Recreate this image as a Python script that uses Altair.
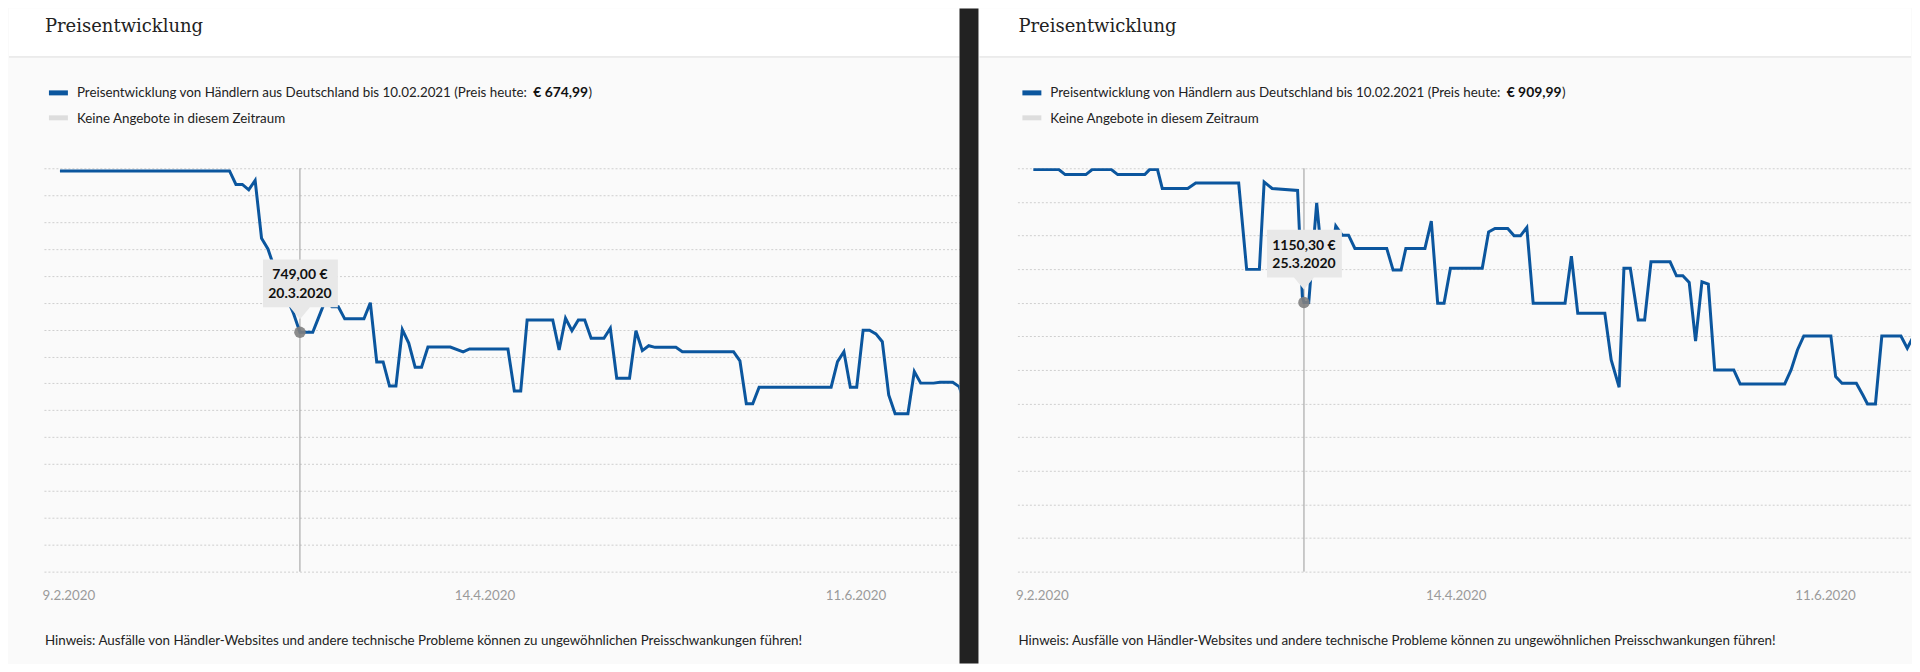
import altair as alt
import pandas as pd

# ---------------- texts ----------------
TITLE = "Preisentwicklung"
LEGEND_PREFIX = "Preisentwicklung von Händlern aus Deutschland bis 10.02.2021 (Preis heute: "
LEGEND_SUFFIX = ")"
LEGEND_NONE = "Keine Angebote in diesem Zeitraum"
NOTE = ("Hinweis: Ausfälle von Händler-Websites und andere technische Probleme "
        "können zu ungewöhnlichen Preisschwankungen führen!")
TICK_DATES = ["2020-02-09", "2020-04-14", "2020-06-11"]

# ---------------- left product ----------------
LEFT_TODAY = "€ 674,99"
LEFT_X_DOMAIN = ["2020-02-09T00:00", "2020-07-01T01:26"]
LEFT_Y_DOMAIN = [660, 810]
LEFT_Y_STEP = 10
LEFT_TIP_DATE = "2020-03-20"
LEFT_TIP_PRICE = 749.00
LEFT_DATES = [
    "2020-02-11T12:00", "2020-03-09", "2020-03-10", "2020-03-11", "2020-03-12",
    "2020-03-13", "2020-03-14", "2020-03-15", "2020-03-16", "2020-03-17",
    "2020-03-18", "2020-03-19", "2020-03-20", "2020-03-22", "2020-03-23",
    "2020-03-24", "2020-03-25", "2020-03-26", "2020-03-27", "2020-03-30",
    "2020-03-31", "2020-04-01", "2020-04-02", "2020-04-03", "2020-04-04",
    "2020-04-05", "2020-04-06", "2020-04-07", "2020-04-08", "2020-04-09",
    "2020-04-12T12:00", "2020-04-14T12:00", "2020-04-15T12:00", "2020-04-21T12:00",
    "2020-04-22T12:00", "2020-04-23T12:00", "2020-04-24T12:00", "2020-04-28T12:00",
    "2020-04-29T12:00", "2020-04-30T12:00", "2020-05-01T12:00", "2020-05-02T12:00",
    "2020-05-03T12:00", "2020-05-04T12:00", "2020-05-06T12:00", "2020-05-07T12:00",
    "2020-05-08T12:00", "2020-05-10T12:00", "2020-05-11T12:00", "2020-05-12T12:00",
    "2020-05-13T12:00", "2020-05-14T12:00", "2020-05-17T18:00", "2020-05-18T18:00",
    "2020-05-26T18:00", "2020-05-27T18:00", "2020-05-28T18:00", "2020-05-29T18:00",
    "2020-05-30T18:00", "2020-06-11", "2020-06-12", "2020-06-13", "2020-06-14",
    "2020-06-15", "2020-06-16", "2020-06-17", "2020-06-18", "2020-06-19",
    "2020-06-20", "2020-06-21", "2020-06-23", "2020-06-24", "2020-06-25",
    "2020-06-27", "2020-06-28", "2020-06-30", "2020-07-01", "2020-07-02",
]
LEFT_PRICES = [
    809.0, 809.0, 804.0, 804.0, 802.0,
    805.5, 784.0, 780.0, 773.0, 767.0,
    761.5, 756.0, 749.0, 749.0, 755.0,
    761.0, 758.5, 758.5, 754.0, 754.0,
    760.0, 738.0, 738.0, 729.0, 729.0,
    750.0, 745.0, 736.0, 736.0, 743.5,
    743.5, 741.7, 742.8, 742.8,
    727.2, 727.2, 753.6, 753.6,
    742.4, 754.2, 749.6, 753.6,
    753.6, 746.8, 746.8, 750.5,
    731.9, 731.9, 749.6, 742.2,
    744.0, 743.4, 743.4, 741.8,
    741.8, 738.4, 722.4, 722.4,
    728.6, 728.6, 738.1, 741.8, 728.6,
    728.6, 749.8, 749.8, 748.4, 745.5,
    725.7, 718.7, 718.7, 734.4, 730.1,
    730.1, 730.4, 730.4, 728.8, 722.0,
]

# ---------------- right product ----------------
RIGHT_TODAY = "€ 909,99"
RIGHT_X_DOMAIN = ["2020-02-09T00:00", "2020-06-28T08:00"]
RIGHT_Y_DOMAIN = [750, 1350]
RIGHT_Y_STEP = 50
RIGHT_TIP_DATE = "2020-03-25"
RIGHT_TIP_PRICE = 1150.30
RIGHT_DATES = [
    "2020-02-11T12:00", "2020-02-15T12:00", "2020-02-16T12:00", "2020-02-19T18:00",
    "2020-02-20T18:00", "2020-02-23T18:00", "2020-02-24T18:00", "2020-02-29T00:00",
    "2020-02-29T18:00", "2020-03-02T00:00", "2020-03-02T18:00", "2020-03-06T18:00",
    "2020-03-08T00:00", "2020-03-14T18:00", "2020-03-16T00:00", "2020-03-18T00:00",
    "2020-03-18T18:00", "2020-03-20T00:00", "2020-03-24T00:00", "2020-03-24T18:00",
    "2020-03-25T00:00", "2020-03-25T18:00", "2020-03-27T00:00", "2020-03-28T00:00",
    "2020-03-29T00:00", "2020-03-30T00:00", "2020-03-31T00:00", "2020-04-01T00:00",
    "2020-04-02", "2020-04-07", "2020-04-08", "2020-04-09T06:00",
    "2020-04-10", "2020-04-13", "2020-04-14", "2020-04-15",
    "2020-04-16", "2020-04-17", "2020-04-22", "2020-04-23",
    "2020-04-24", "2020-04-26", "2020-04-27", "2020-04-28",
    "2020-04-29", "2020-04-30", "2020-05-05", "2020-05-06",
    "2020-05-07", "2020-05-11T06:00", "2020-05-12T06:00", "2020-05-13T12:00",
    "2020-05-14T06:00", "2020-05-15T06:00", "2020-05-16T12:00", "2020-05-17T12:00",
    "2020-05-18T12:00", "2020-05-21T12:00", "2020-05-22T12:00", "2020-05-23T12:00",
    "2020-05-24T12:00", "2020-05-25T12:00", "2020-05-26T12:00", "2020-05-27T12:00",
    "2020-05-28T12:00", "2020-05-31T12:00", "2020-06-01T12:00", "2020-06-08T12:00",
    "2020-06-09T12:00", "2020-06-10T12:00", "2020-06-11T12:00", "2020-06-15T18:00",
    "2020-06-16T12:00", "2020-06-17T12:00", "2020-06-19T18:00", "2020-06-20T18:00",
    "2020-06-21T12:00", "2020-06-22T18:00", "2020-06-23T18:00", "2020-06-26T18:00",
    "2020-06-27T18:00", "2020-06-28T18:00", "2020-06-29T18:00",
]
RIGHT_PRICES = [
    1348.0, 1348.0, 1340.6, 1340.6,
    1348.0, 1348.0, 1340.6, 1340.6,
    1348.0, 1348.0, 1320.0, 1320.0,
    1328.0, 1328.0, 1199.6, 1199.6,
    1329.7, 1320.0, 1317.0, 1159.0,
    1150.3, 1150.3, 1298.5, 1198.0,
    1198.0, 1264.0, 1250.5, 1250.5,
    1230.8, 1230.8, 1198.5, 1198.5,
    1230.8, 1230.8, 1271.3, 1149.1,
    1149.1, 1201.1, 1201.1, 1255.4,
    1260.5, 1260.5, 1249.5, 1249.5,
    1262.0, 1149.1, 1149.1, 1219.3,
    1134.2, 1134.2, 1064.9, 1024.3,
    1201.1, 1201.1, 1124.3, 1124.3,
    1210.9, 1210.9, 1190.1, 1190.1,
    1180.3, 1093.1, 1181.2, 1177.7,
    1050.0, 1050.0, 1029.2, 1029.2,
    1050.0, 1079.7, 1100.5, 1100.5,
    1040.1, 1030.3, 1030.3, 1013.0,
    999.5, 999.5, 1100.5, 1100.5,
    1082.3, 1100.5, 1100.5,
]

# ---------------- styling ----------------
BLUE = "#0b569e"
SANS = "Lato"
SERIF = "DejaVu Serif"
FS = 13.4
PLOT_H = 404
TOP = 160          # from chart top to plot top
BOTTOM = 496       # from plot top to chart bottom
CALLOUT = "M-37,-73L38,-73L38,-25L10,-25L0,-13L-10,-25L-37,-25Z"


def ms(s):
    return int(pd.Timestamp(s, tz="UTC").value // 10**6)


def de_price(p):
    return f"{p:.2f}".replace(".", ",") + " €"


def de_date(s):
    t = pd.Timestamp(s)
    return f"{t.day}.{t.month}.{t.year}"


def panel(dates, prices, today, x_domain, y_domain, y_step, tip_date, tip_price,
          width, left_pad, gap, paren_x):
    df = pd.DataFrame({"t": [ms(d) for d in dates], "p": prices})
    tip = pd.DataFrame({"t": [ms(tip_date)], "p": [tip_price],
                        "l1": [de_price(tip_price)], "l2": [de_date(tip_date)]})
    ticks = pd.DataFrame({"t": [ms(d) for d in TICK_DATES],
                          "lab": [de_date(d) for d in TICK_DATES]})
    one = alt.Data(values=[{"a": 1}])

    x_scale = alt.Scale(type="utc", domain=[ms(x_domain[0]), ms(x_domain[1])], nice=False)
    y_scale = alt.Scale(domain=y_domain, nice=False, zero=False)
    x_axis = alt.Axis(values=[ms(d) for d in TICK_DATES], labels=False,
                      grid=False, domain=False, ticks=False, title=None)
    y_axis = alt.Axis(values=list(range(y_domain[0], y_domain[1] + 1, y_step)),
                      grid=True, gridDash=[2, 2], gridColor="#cfcfcf", gridWidth=1,
                      domain=False, ticks=False, labels=False, title=None, minExtent=0)
    X = alt.X("t:T", scale=x_scale, axis=x_axis)
    Y = alt.Y("p:Q", scale=y_scale, axis=y_axis)

    layers = []
    layers.append(alt.Chart(one).mark_rect(color="#ffffff").encode(
        x=alt.value(-left_pad), x2=alt.value(width),
        y=alt.value(-TOP), y2=alt.value(-112)))
    layers.append(alt.Chart(one).mark_rule(color="#dddddd", strokeWidth=1).encode(
        x=alt.value(-left_pad), x2=alt.value(width), y=alt.value(-111.5)))
    if gap:
        layers.append(alt.Chart(one).mark_rect(color="#222222").encode(
            x=alt.value(width), x2=alt.value(width + gap),
            y=alt.value(-TOP), y2=alt.value(BOTTOM)))
    layers.append(alt.Chart(one).mark_text(
        text=TITLE, font=SERIF, fontSize=18, align="left", baseline="alphabetic",
        color="#222222").encode(x=alt.value(1), y=alt.value(-136)))
    # legend
    layers.append(alt.Chart(one).mark_rect(color=BLUE).encode(
        x=alt.value(5), x2=alt.value(24), y=alt.value(-78), y2=alt.value(-73)))
    layers.append(alt.Chart(one).mark_rect(color="#dddddd").encode(
        x=alt.value(5), x2=alt.value(24), y=alt.value(-53), y2=alt.value(-48)))
    layers.append(alt.Chart(one).mark_text(
        text=LEGEND_PREFIX, font=SANS, fontSize=FS, align="left", baseline="middle",
        color="#222222").encode(x=alt.value(33), y=alt.value(-75)))
    layers.append(alt.Chart(one).mark_text(
        text=today, font=SANS, fontSize=13.9, fontWeight="bold", align="right",
        baseline="middle", color="#111111").encode(x=alt.value(paren_x), y=alt.value(-75)))
    layers.append(alt.Chart(one).mark_text(
        text=LEGEND_SUFFIX, font=SANS, fontSize=FS, align="left", baseline="middle",
        color="#222222").encode(x=alt.value(paren_x + 0.5), y=alt.value(-75)))
    layers.append(alt.Chart(one).mark_text(
        text=LEGEND_NONE, font=SANS, fontSize=FS, align="left", baseline="middle",
        color="#222222").encode(x=alt.value(33), y=alt.value(-49.5)))
    # footnote
    layers.append(alt.Chart(one).mark_text(
        text=NOTE, font=SANS, fontSize=FS, align="left", baseline="middle",
        color="#222222").encode(x=alt.value(1), y=alt.value(473)))
    # x tick labels (centred, shifted right of the tick as in the original)
    layers.append(alt.Chart(ticks).mark_text(
        font=SANS, fontSize=FS, color="#9a9a9a", align="center", baseline="middle",
        dx=25).encode(x=X, y=alt.value(428), text="lab:N"))
    # data
    layers.append(alt.Chart(tip).mark_rule(color="#9a9a9a", strokeWidth=1).encode(x=X))
    layers.append(alt.Chart(df).mark_line(color=BLUE, strokeWidth=3, clip=True)
                  .encode(x=X, y=Y))
    layers.append(alt.Chart(tip).mark_circle(size=133, color="#808080", opacity=0.9)
                  .encode(x=X, y=Y))
    layers.append(alt.Chart(tip).mark_point(shape=CALLOUT, size=4, filled=True,
                                            fill="#e8e8e8", opacity=1, strokeWidth=0)
                  .encode(x=X, y=Y))
    layers.append(alt.Chart(tip).mark_text(font=SANS, fontSize=14, fontWeight="bold",
                                           color="#111111", dy=-57)
                  .encode(x=X, y=Y, text="l1:N"))
    layers.append(alt.Chart(tip).mark_text(font=SANS, fontSize=14, fontWeight="bold",
                                           color="#111111", dy=-38.5)
                  .encode(x=X, y=Y, text="l2:N"))
    return alt.layer(*layers).properties(width=width, height=PLOT_H)


left = panel(LEFT_DATES, LEFT_PRICES, LEFT_TODAY, LEFT_X_DOMAIN, LEFT_Y_DOMAIN,
             LEFT_Y_STEP, LEFT_TIP_DATE, LEFT_TIP_PRICE, width=917, left_pad=35, gap=19,
             paren_x=545)
right = panel(RIGHT_DATES, RIGHT_PRICES, RIGHT_TODAY, RIGHT_X_DOMAIN, RIGHT_Y_DOMAIN,
              RIGHT_Y_STEP, RIGHT_TIP_DATE, RIGHT_TIP_PRICE, width=895, left_pad=38, gap=0,
              paren_x=545)

chart = (alt.hconcat(left, right, spacing=0)
         .properties(padding=0)
         .configure(background="#fafafa")
         .configure_view(strokeWidth=0))

chart.save("out.html", embed_options={"renderer": "svg", "actions": False})
